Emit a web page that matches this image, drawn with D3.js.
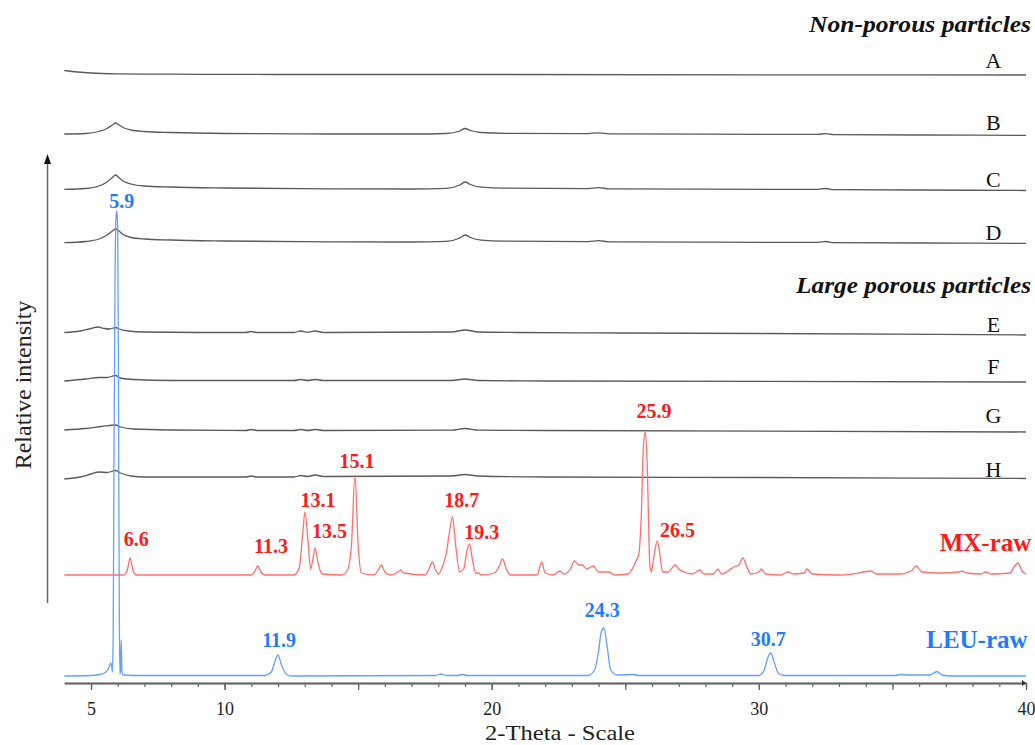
<!DOCTYPE html>
<html>
<head>
<meta charset="utf-8">
<script src="https://cdn.jsdelivr.net/npm/d3@7"></script>
<style>
  html, body { margin: 0; padding: 0; background: #fff; }
  svg { display: block; }
</style>
</head>
<body>
<svg id="chart" width="1035" height="745"></svg>
<script>
// ---------------- DATA ----------------
const seriesNames = ["A", "B", "C", "D", "E", "F", "G", "H", "MX-raw", "LEU-raw"];
// vertical offsets of each pattern (stacking, relative intensity units)
const seriesOffsets = [607, 547, 492, 439, 348, 300, 250, 203, 107, 6];

const patternA = [[4,4.5],[4.5,3],[5,2],[6,1.2],[8,0.8],[12,0.5],[20,0.5],[30,0.2],[40,0]];
const patternB = [[4,1],[4.8,1.5],[5.3,3.5],[5.6,6.5],[5.8,10],[5.92,12],[6.02,10.5],[6.2,7.5],[6.5,5],[7,3.5],[8,2.5],[10,1.5],[14,1],[17,1],[18.3,1.5],[18.8,4],[19,6.5],[19.2,4.5],[19.6,2.5],[20.5,1.7],[23.6,1.4],[24,2.2],[24.4,1.2],[28,0.8],[32.2,0.6],[32.5,1.4],[32.8,0.4],[36,0],[40,-0.3]];
const patternC = [[4,0.7],[4.8,1.5],[5.3,4],[5.6,8],[5.8,12.5],[5.92,15],[6.02,13],[6.2,9],[6.5,6],[7,4],[8,3],[10,2],[14,1.2],[17,1],[18.3,1.6],[18.8,5],[19,8],[19.2,5.5],[19.6,2.8],[20.5,1.8],[23.6,1.4],[24,2.3],[24.4,1.2],[28,0.8],[32.2,0.6],[32.5,1.5],[32.8,0.4],[36,0],[40,-0.5]];
const patternD = [[4,0.3],[4.8,1.5],[5.3,4],[5.6,8],[5.8,12],[5.92,14],[6.02,12.5],[6.2,8.5],[6.5,5.5],[7,4],[8,3],[10,2],[14,1.2],[17,1],[18.3,1.6],[18.8,5],[19,8],[19.2,5.5],[19.6,2.8],[20.5,1.8],[23.6,1.4],[24,2.3],[24.4,1.2],[28,0.8],[32.2,0.6],[32.5,1.5],[32.8,0.4],[36,0],[40,-0.3]];
const patternE = [[4,1.5],[4.6,3],[5,5.5],[5.25,7],[5.5,5.5],[5.7,5],[5.92,6.5],[6.05,5],[6.4,3],[7,2],[9,1.5],[10.8,1.5],[11,2.5],[11.2,1.5],[12.6,1.5],[12.85,3],[13.1,1.8],[13.4,3],[13.7,1.5],[18.5,2],[19,4],[19.5,2],[21,1.5],[25,1],[30,0.5],[40,-1]];
const patternF = [[4,1],[4.8,3],[5.3,4.5],[5.6,4.5],[5.92,6.5],[6.1,4],[6.6,2.5],[8,1.5],[11,1.5],[12.6,1.5],[12.85,2.5],[13.1,1.5],[13.4,2.5],[13.7,1.5],[18.5,1.5],[19,3],[19.5,1.5],[22,1],[40,0]];
const patternG = [[4,2],[4.8,3.5],[5.4,5.5],[5.92,7],[6.1,5],[6.6,3],[8,2],[10.8,1.5],[11,2.5],[11.2,1.5],[12.6,1.5],[12.85,2.5],[13.1,1.5],[13.4,2.5],[13.7,1.5],[18.5,1.8],[19,3.5],[19.5,1.8],[22,1.5],[40,0]];
const patternH = [[4,0],[4.6,2],[5,5],[5.3,7],[5.6,6.5],[5.92,8.5],[6.1,6],[6.5,3],[7,2],[10.8,2],[11,3],[11.2,2],[12.6,2],[12.85,3.5],[13.1,2.5],[13.4,4],[13.7,2.5],[18.5,3],[19,4.5],[19.5,3],[22,2],[30,1.5],[40,0.5]];
const patternMX = [[4,0],[6.2,0],[6.35,4],[6.46,17],[6.58,4],[6.7,0],[11.0,0],[11.12,3],[11.24,9],[11.36,3],[11.5,0],[12.6,0],[12.8,8],[12.92,40],[13.01,63],[13.12,35],[13.22,6],[13.3,15],[13.39,27],[13.5,12],[13.65,1],[14.4,0],[14.6,5],[14.75,30],[14.88,100],[15.0,30],[15.12,2],[15.6,0],[15.75,5],[15.87,10],[16.0,3],[16.2,0],[16.5,3],[16.6,5],[16.7,2],[17.5,0],[17.65,6],[17.78,13],[17.9,5],[18.0,1],[18.15,8],[18.3,22],[18.43,45],[18.53,58],[18.65,30],[18.8,3],[18.95,6],[19.08,25],[19.17,31],[19.28,15],[19.4,2],[19.5,2],[19.6,0],[20.1,2],[20.3,10],[20.4,16],[20.55,6],[20.7,0],[21.7,0],[21.87,13],[22.0,2],[22.3,0],[22.55,4],[22.7,1],[22.95,6],[23.1,14],[23.25,10],[23.4,10],[23.55,6],[23.8,9],[24.0,3],[24.4,3],[24.6,0],[25.1,1],[25.3,8],[25.4,14],[25.5,20],[25.6,60],[25.68,130],[25.75,143],[25.82,110],[25.92,10],[25.98,3],[26.05,15],[26.2,34],[26.3,20],[26.4,3],[26.6,3],[26.87,10],[27.0,6],[27.2,3],[27.5,1],[27.8,5],[27.95,1],[28.3,1],[28.47,6],[28.6,1],[28.9,5],[29.06,8],[29.25,10],[29.4,17],[29.55,8],[29.7,1],[30.0,3],[30.1,6],[30.25,1],[30.8,0],[31.1,3],[31.3,1],[31.7,2],[31.8,6],[32.0,1],[33.0,0],[33.5,1],[34.2,4],[34.4,1],[35.3,1],[35.7,4],[35.9,9],[36.1,3],[36.8,2],[37.5,3],[37.6,4],[37.8,2],[38.3,1],[38.5,3],[38.7,1],[39.4,2],[39.55,8],[39.7,12],[39.85,4],[40,1]];
const patternLEU = [[4,0],[5,0.5],[5.3,1.5],[5.5,3],[5.65,7],[5.74,13],[5.78,8],[5.8,4],[5.83,40],[5.86,220],[5.9,400],[5.94,460],[5.97,465],[6.0,445],[6.03,270],[6.06,60],[6.08,2],[6.1,4],[6.13,36],[6.16,4],[6.2,1],[7,0.5],[11.5,0.5],[11.75,4],[11.88,14],[12.0,21],[12.12,12],[12.3,2],[12.5,0],[17.9,0.5],[18.1,2],[18.3,0.5],[18.7,0.5],[18.9,1.5],[19.1,0.5],[23.6,0.5],[23.85,6],[24.0,25],[24.1,44],[24.2,48],[24.32,30],[24.45,6],[24.7,1],[25.3,1.5],[25.5,0.5],[30.0,0.5],[30.2,6],[30.33,18],[30.45,23],[30.57,14],[30.75,2],[31,0.5],[35.1,0.5],[35.3,1.5],[35.6,1],[36.4,1],[36.67,4.5],[36.85,1],[37.2,0],[40,0]];

const seriesPatterns = [patternA, patternB, patternC, patternD, patternE, patternF, patternG, patternH, patternMX, patternLEU];

// series labels (A..H at the right, MX-raw / LEU-raw)
const seriesLabelTheta = [38.78, 38.78, 38.78, 38.78, 38.78, 38.78, 38.78, 38.78, 40.2, 40.06];
const seriesLabelLevel = [614, 552, 495, 442, 350, 308, 259, 205, 131, 34];

// peak annotations
const mxPeakTexts  = ["6.6", "11.3", "13.1", "13.5", "15.1", "18.7", "19.3", "25.9", "26.5"];
const mxPeakTheta  = [6.69, 11.74, 13.5, 13.93, 14.96, 18.88, 19.63, 26.07, 26.95];
const mxPeakLevel  = [136, 129, 175, 144, 214, 175, 143, 264, 145];
const leuPeakTexts = ["5.9", "11.9", "24.3", "30.7"];
const leuPeakTheta = [6.15, 12.04, 24.14, 30.35];
const leuPeakLevel = [474, 35, 65, 36];

const groupTitles = ["Non-porous particles", "Large porous particles"];
const groupTitleLevel = [650, 389];

const xLabelTicks = [5, 10, 20, 30, 40];
const xMajorTicks = [5, 10, 15, 20, 25, 30, 35, 40];
const xMinorTicks = d3.range(5, 41, 1);

// ---------------- DRAW ----------------
const svg = d3.select("#chart");
const serif = "'Times New Roman', 'Liberation Serif', serif";

const x = d3.scaleLinear().domain([4, 40]).range([64.3, 1026]);
const y = d3.scaleLinear().domain([0, 620]).range([682, 62]);

const grey = "#5a5a5a";
const red = "#ff7070";
const blue = "#64a0ff";
const seriesColors = [grey, grey, grey, grey, grey, grey, grey, grey, red, blue];
const labelColors = ["#111","#111","#111","#111","#111","#111","#111","#111","#ff1a1a","#1f7bff"];

const line = d3.line().curve(d3.curveMonotoneX);

seriesPatterns.forEach((pts, i) => {
  const off = seriesOffsets[i];
  svg.append("path")
    .attr("d", line(pts.map(p => [x(p[0]), y(off + p[1])])))
    .attr("fill", "none")
    .attr("stroke", seriesColors[i])
    .attr("stroke-width", 1.3)
    .attr("stroke-linejoin", "round");
});

// series labels
seriesNames.forEach((name, i) => {
  const big = i >= 8;
  svg.append("text")
    .attr("x", x(seriesLabelTheta[i]))
    .attr("y", y(seriesLabelLevel[i]))
    .attr("text-anchor", big ? "end" : "middle")
    .attr("font-family", serif)
    .attr("font-size", big ? 25 : 22)
    .attr("font-weight", big ? "bold" : "normal")
    .attr("fill", labelColors[i])
    .text(name);
});

// peak labels
function peakLabels(texts, thetas, levels, color) {
  texts.forEach((t, i) => {
    svg.append("text")
      .attr("x", x(thetas[i]))
      .attr("y", y(levels[i]))
      .attr("text-anchor", "middle")
      .attr("font-family", serif)
      .attr("font-size", 20)
      .attr("font-weight", "bold")
      .attr("fill", color)
      .text(t);
  });
}
peakLabels(mxPeakTexts, mxPeakTheta, mxPeakLevel, "#ff1a1a");
peakLabels(leuPeakTexts, leuPeakTheta, leuPeakLevel, "#1f7bff");

// group titles
const titleWidths = [222, 235];
groupTitles.forEach((t, i) => {
  svg.append("text")
    .attr("x", 1031)
    .attr("y", y(groupTitleLevel[i]))
    .attr("text-anchor", "end")
    .attr("font-family", serif)
    .attr("font-size", 23)
    .attr("font-weight", "bold")
    .attr("font-style", "italic")
    .attr("textLength", titleWidths[i])
    .attr("lengthAdjust", "spacingAndGlyphs")
    .attr("fill", "#111")
    .text(t);
});

// x axis
const axisColor = "#666";
const yAxis0 = y(0) + 1;
const gMinor = svg.append("g").attr("transform", `translate(0,${yAxis0})`)
  .call(d3.axisBottom(x).tickValues(xMinorTicks).tickSize(4).tickSizeOuter(0).tickFormat(""));
const gMajor = svg.append("g").attr("transform", `translate(0,${yAxis0})`)
  .call(d3.axisBottom(x).tickValues(xMajorTicks).tickSize(7).tickSizeOuter(0).tickFormat(""));
const gLabels = svg.append("g").attr("transform", `translate(0,${yAxis0})`)
  .call(d3.axisBottom(x).tickValues(xLabelTicks).tickSize(7).tickSizeOuter(0).tickPadding(12).tickFormat(d3.format("d")));
[gMinor, gMajor, gLabels].forEach(g => {
  g.select(".domain").attr("stroke", axisColor).attr("stroke-width", 1.6);
  g.selectAll(".tick line").attr("stroke", axisColor).attr("stroke-width", 1.2);
  g.selectAll(".tick text").attr("font-family", serif).attr("font-size", 18).attr("fill", "#222");
});
// small arrow head at right of x axis
svg.append("path")
  .attr("d", `M${x(40)},${yAxis0} l-4,-3 l0,6 z`)
  .attr("fill", "#333");

svg.append("text")
  .attr("x", 560)
  .attr("y", 740)
  .attr("text-anchor", "middle")
  .attr("font-family", serif)
  .attr("font-size", 22)
  .attr("textLength", 150)
  .attr("lengthAdjust", "spacingAndGlyphs")
  .attr("fill", "#222")
  .text("2-Theta - Scale");

// y arrow
svg.append("line")
  .attr("x1", 47.5).attr("x2", 47.5)
  .attr("y1", 603).attr("y2", 162)
  .attr("stroke", "#666").attr("stroke-width", 1.5);
svg.append("path")
  .attr("d", "M47.5,154 l-3.5,10 l7,0 z")
  .attr("fill", "#111");

svg.append("text")
  .attr("transform", "translate(31,385) rotate(-90)")
  .attr("text-anchor", "middle")
  .attr("font-family", serif)
  .attr("font-size", 24)
  .attr("fill", "#222")
  .text("Relative intensity");
</script>
</body>
</html>
